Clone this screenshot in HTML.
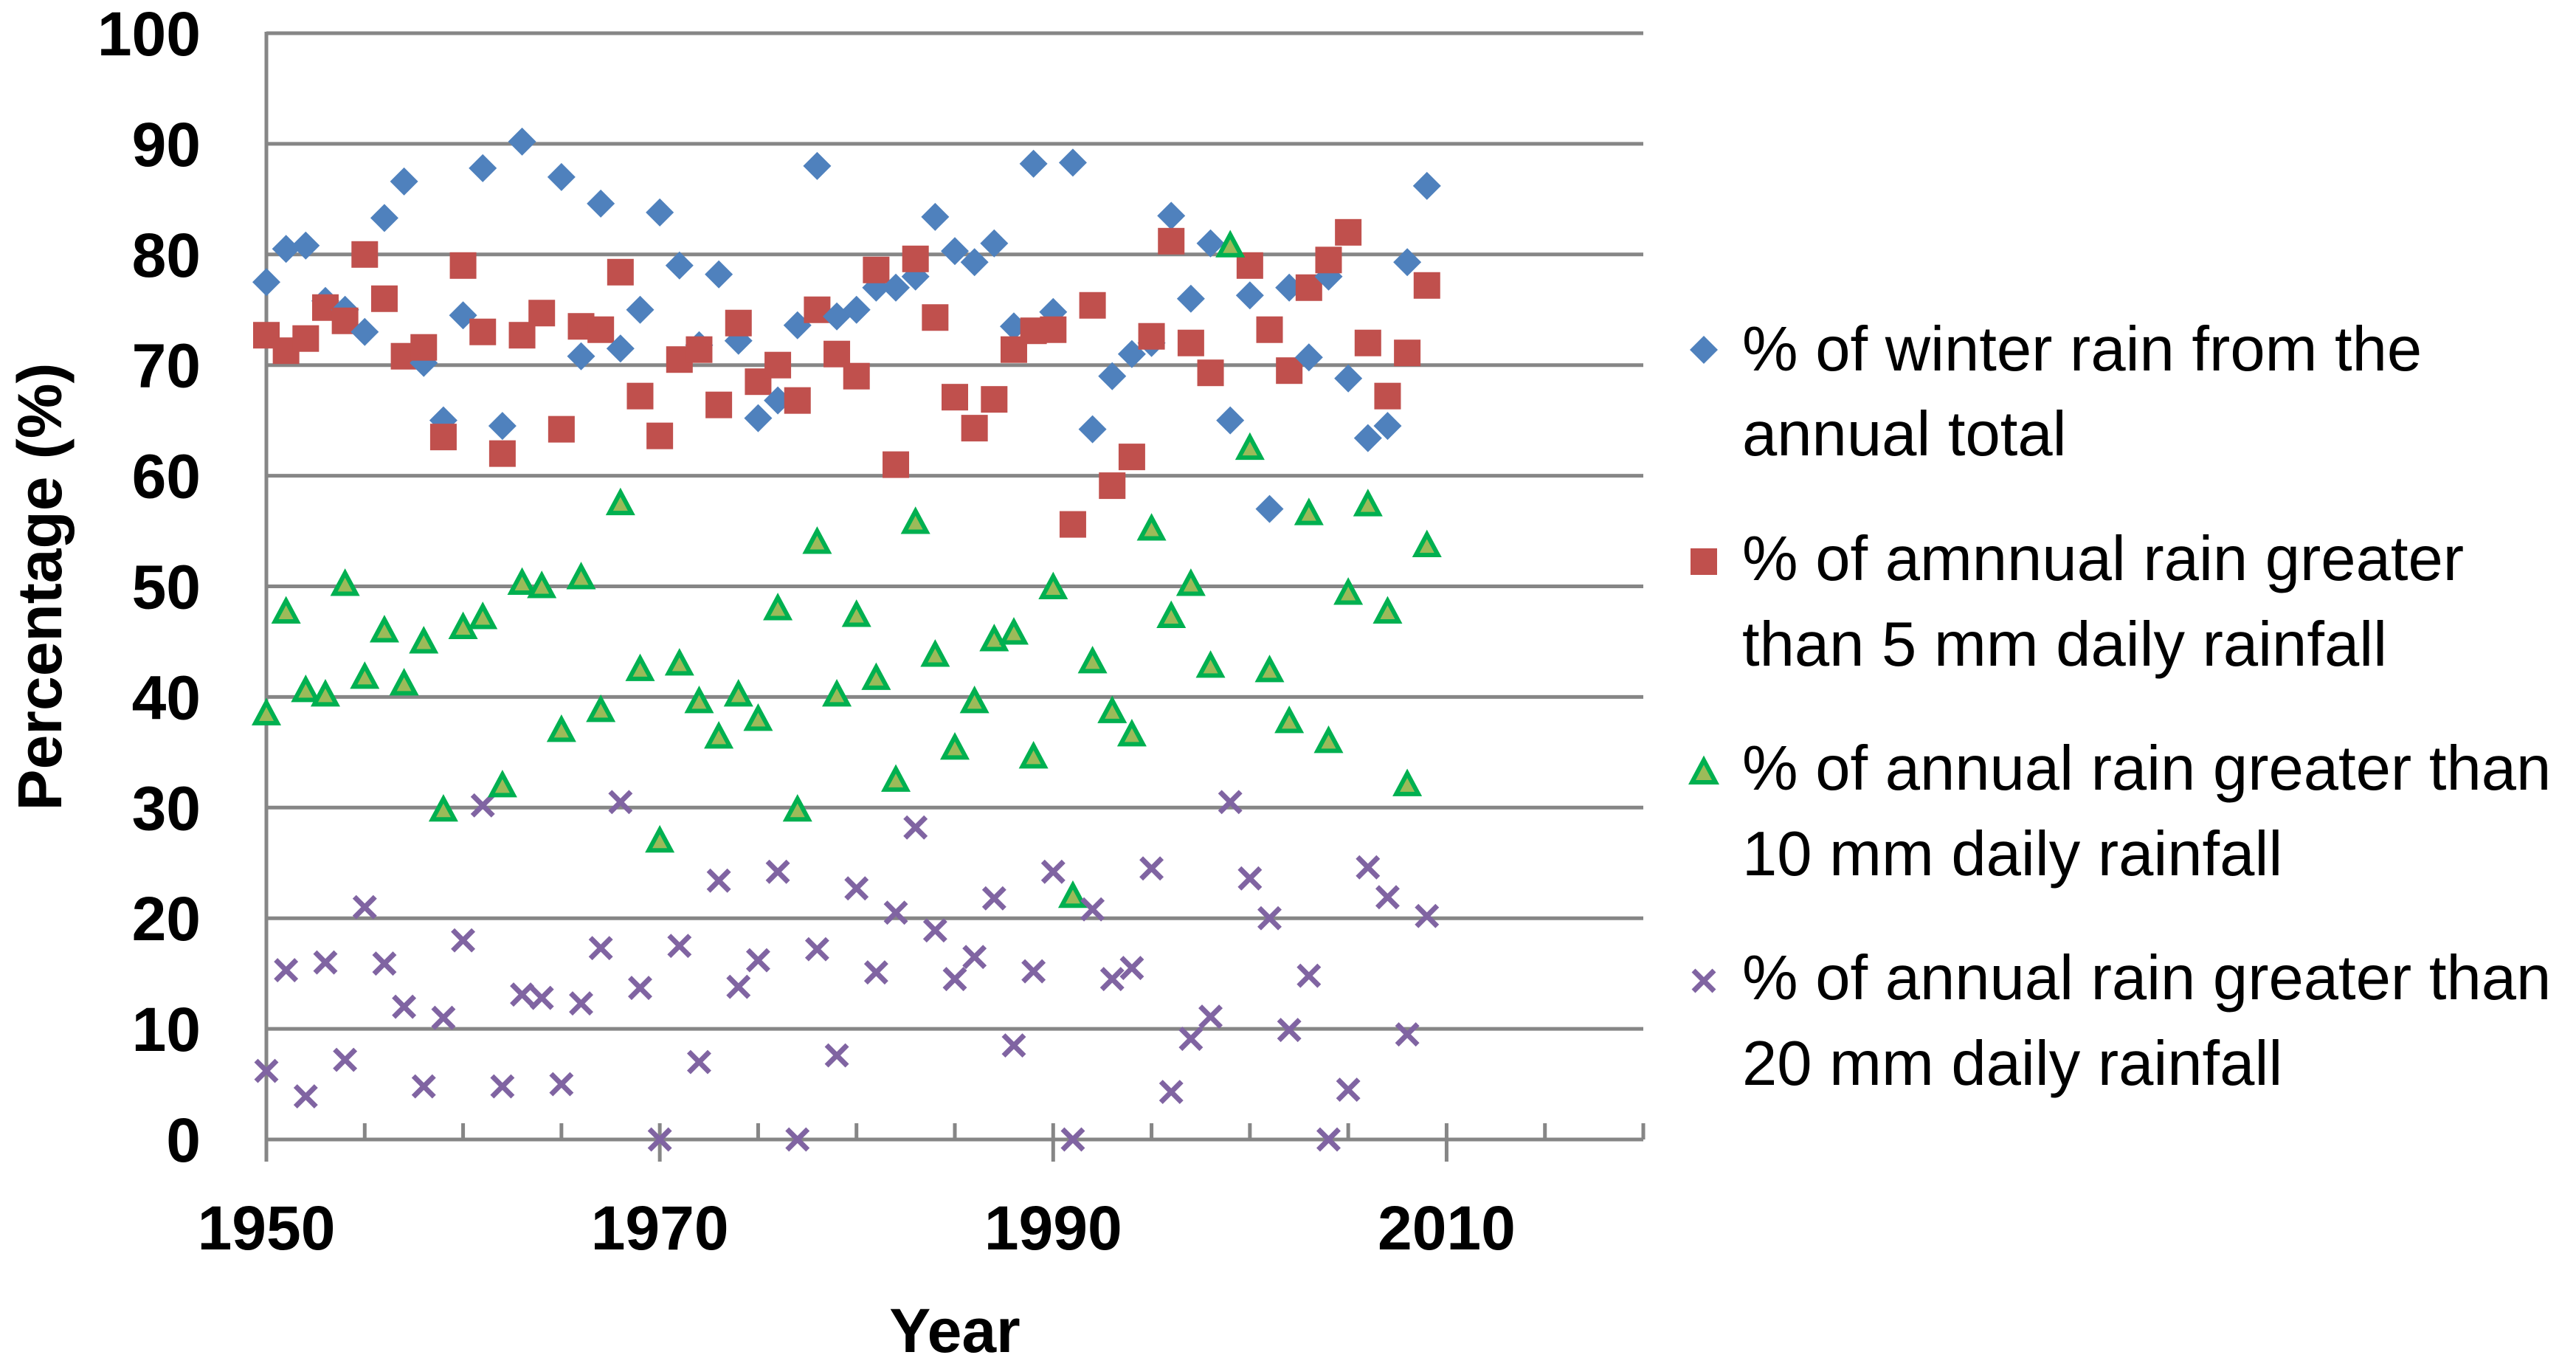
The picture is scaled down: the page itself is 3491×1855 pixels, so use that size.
<!DOCTYPE html>
<html>
<head>
<meta charset="utf-8">
<style>
  html, body { margin: 0; padding: 0; background: #fff; }
  svg { display: block; }
  text { font-family: "Liberation Sans", "DejaVu Sans", sans-serif; fill: #000; }
</style>
</head>
<body>
<svg id="chart" width="3491" height="1855" viewBox="0 0 3491 1855" xmlns="http://www.w3.org/2000/svg">
  <g id="grid"></g>
  <g id="axes"></g>
  <g id="ylabels"></g>
  <g id="xlabels"></g>
  <g id="marks"></g>
  <text x="1294" y="1832" font-size="84" font-weight="bold" text-anchor="middle">Year</text>
  <text x="0" y="0" font-size="84" font-weight="bold" text-anchor="middle" transform="translate(83,795) rotate(-90)">Percentage (%)</text>
  <g id="legend">
    <g>
      <polygon points="2309,455 2328,474 2309,493 2290,474" fill="#4F81BD"/>
      <text x="2361" y="502" font-size="85">% of winter rain from the</text>
      <text x="2361" y="617" font-size="85">annual total</text>
    </g>
    <g>
      <rect x="2291" y="743" width="36" height="36" fill="#C0504D"/>
      <text x="2361" y="786" font-size="85">% of amnnual rain greater</text>
      <text x="2361" y="902" font-size="85">than 5 mm daily rainfall</text>
    </g>
    <g>
      <polygon points="2309,1030 2325,1060 2293,1060" fill="#9BBB59" stroke="#00B050" stroke-width="6"/>
      <text x="2361" y="1070" font-size="85">% of annual rain greater than</text>
      <text x="2361" y="1186" font-size="85">10 mm daily rainfall</text>
    </g>
    <g>
      <path d="M2295,1315 L2323,1343 M2323,1315 L2295,1343" stroke="#8064A2" stroke-width="7"/>
      <text x="2361" y="1354" font-size="85">% of annual rain greater than</text>
      <text x="2361" y="1470" font-size="85">20 mm daily rainfall</text>
    </g>
  </g>
</svg>
<script>
const years = [1950,1951,1952,1953,1954,1955,1956,1957,1958,1959,1960,1961,1962,1963,1964,1965,1966,1967,1968,1969,1970,1971,1972,1973,1974,1975,1976,1977,1978,1979,1980,1981,1982,1983,1984,1985,1986,1987,1988,1989,1990,1991,1992,1993,1994,1995,1996,1997,1998,1999,2000,2001,2002,2003,2004,2005,2006,2007,2008,2009];
const winterPct = [77.5,80.5,80.8,75.8,75,73,83.3,86.6,70.2,65,74.5,87.8,64.5,90.2,null,87,70.8,84.6,71.5,75,83.8,79,71.8,78.2,72.2,65.2,66.8,73.6,88,74.4,75,77,77,78,83.4,80.3,79.3,81,73.5,88.2,74.8,88.3,64.2,69,71,72,83.5,76,81,65,76.3,57,77,70.7,78,68.8,63.4,64.5,79.3,86.2];
const gt5mm = [72.7,71.3,72.4,75.2,74,80,76,70.8,71.6,63.5,79,73,62,72.7,74.7,64.2,73.5,73.2,78.4,67.2,63.6,70.5,71.4,66.4,73.8,68.5,70,66.8,75,71,69,78.6,61,79.6,74.3,67.1,64.3,66.9,71.4,73.1,73.2,55.6,75.4,59.1,61.7,72.6,81.2,72,69.3,null,79,73.2,69.5,77,79.5,82,72,67.2,71.1,77.2];
const gt10mm = [38.5,47.7,40.6,40.2,50.2,41.8,46,41.2,45,29.8,46.3,47.2,32,50.3,50,37,50.8,38.8,57.5,42.5,27,43,39.6,36.4,40.2,38,48,29.8,54,40.2,47.4,41.7,32.5,55.8,43.8,35.4,39.6,45.2,45.8,34.6,49.9,22,43.2,38.7,36.6,55.2,47.3,50.2,42.8,80.8,62.5,42.4,37.8,56.6,36,49.4,57.4,47.7,32.1,53.7];
const gt20mm = [6.2,15.3,3.9,16,7.2,21,15.9,12,4.8,11,18,30.2,4.8,13.1,12.8,5,12.3,17.3,30.5,13.7,0,17.5,7,23.4,13.8,16.2,24.2,0,17.2,7.6,22.7,15.1,20.5,28.2,18.9,14.5,16.5,21.8,8.5,15.2,24.2,0,20.8,14.5,15.5,24.5,4.3,9.1,11.1,30.5,23.6,20,9.9,14.8,0,4.5,24.6,21.9,9.5,20.2];
const yTicks = [0,10,20,30,40,50,60,70,80,90,100];
const xTickLabels = [1950,1970,1990,2010];

const NS = "http://www.w3.org/2000/svg";
const X0 = 361, X1 = 2227, Y0 = 1544, Y1 = 45;
function xs(v){ return X0 + (v - 1950) / (2020 - 1950) * (X1 - X0); }
function ys(v){ return Y0 - v / 100 * (Y0 - Y1); }
function mk(tag, attrs, parent){
  const e = document.createElementNS(NS, tag);
  for (const k in attrs) e.setAttribute(k, attrs[k]);
  parent.appendChild(e);
  return e;
}
const grid = document.getElementById('grid');
const axes = document.getElementById('axes');
const ylab = document.getElementById('ylabels');
const xlab = document.getElementById('xlabels');
const marks = document.getElementById('marks');
const GC = "#868686";

yTicks.forEach(t => {
  if (t > 0) {
    const l = mk('line', {x1: X0, x2: X1, y1: ys(t), y2: ys(t), stroke: GC, 'stroke-width': 5}, grid);
    
    
  }
  const tx = mk('text', {x: 272, y: ys(t) + 30, 'font-size': 84, 'font-weight': 'bold', 'text-anchor': 'end'}, ylab);
  tx.textContent = t;
  
  
});

const ya = mk('line', {x1: X0, x2: X0, y1: Y1 - 2, y2: Y0 + 30, stroke: GC, 'stroke-width': 5}, axes);


const xa = mk('line', {x1: X0, x2: X1, y1: Y0, y2: Y0, stroke: GC, 'stroke-width': 5}, axes);


for (let yr = 1955; yr <= 2020; yr += 5) {
  const major = (yr - 1950) % 20 === 0;
  const tk = mk('line', {x1: xs(yr), x2: xs(yr), y1: Y0 - 22, y2: major ? Y0 + 30 : Y0, stroke: GC, 'stroke-width': 5}, axes);
  
  
}
xTickLabels.forEach(t => {
  const tx = mk('text', {x: xs(t), y: 1693, 'font-size': 84, 'font-weight': 'bold', 'text-anchor': 'middle'}, xlab);
  tx.textContent = t;
  
  
});

years.forEach((yr, i) => {
  const cx = xs(yr);
  if (winterPct[i] != null) {
    const cy = ys(winterPct[i]);
    const p = mk('polygon', {points: `${cx},${cy-19} ${cx+19},${cy} ${cx},${cy+19} ${cx-19},${cy}`, fill: '#4F81BD'}, marks);
    
    
  }
  if (gt5mm[i] != null) {
    const cy = ys(gt5mm[i]);
    const r = mk('rect', {x: cx - 18, y: cy - 18, width: 36, height: 36, fill: '#C0504D'}, marks);
    
    
  }
});
years.forEach((yr, i) => {
  const cx = xs(yr);
  if (gt10mm[i] != null) {
    const cy = ys(gt10mm[i]);
    const t = mk('polygon', {points: `${cx},${cy-15} ${cx+15},${cy+13} ${cx-15},${cy+13}`, fill: '#9BBB59', stroke: '#00B050', 'stroke-width': 6, 'stroke-linejoin': 'miter'}, marks);
    
    
  }
  if (gt20mm[i] != null) {
    const cy = ys(gt20mm[i]);
    const x = mk('path', {d: `M${cx-14},${cy-14} L${cx+14},${cy+14} M${cx+14},${cy-14} L${cx-14},${cy+14}`, stroke: '#8064A2', 'stroke-width': 7}, marks);
    
    
  }
});
</script>
</body>
</html>
